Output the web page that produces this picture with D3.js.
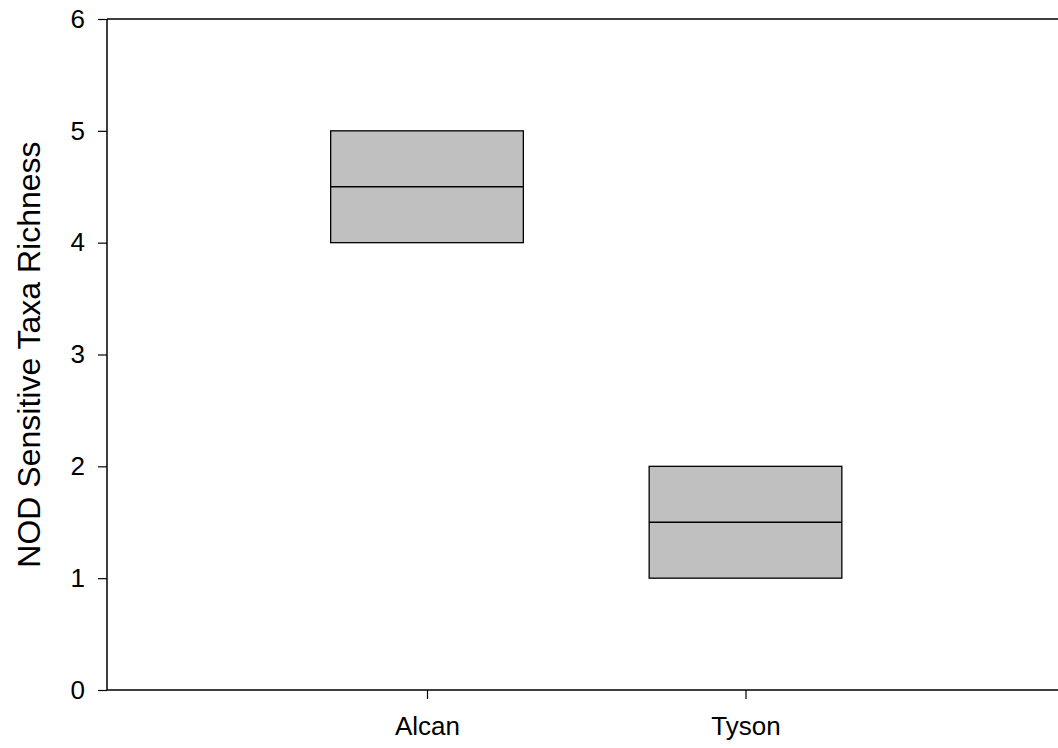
<!DOCTYPE html>
<html><head><meta charset="utf-8">
<script src="https://cdn.jsdelivr.net/npm/d3@7"></script>
<style>body{margin:0;background:#fff}svg{display:block}text{font-family:"Liberation Sans",Arial,sans-serif}</style>
</head><body><svg id="c" width="1058" height="748"></svg>
<script>
const categories = ["Alcan", "Tyson"];
const q1 = [4, 1];
const medians = [4.5, 1.5];
const q3 = [5, 2];
const yTicks = [0, 1, 2, 3, 4, 5, 6];
const yTitle = "NOD Sensitive Taxa Richness";

const svg = d3.select("#c");
const mLeft = 107, mRight = 1058, mTop = 19, mBottom = 690;
const x = d3.scaleLinear().domain([0, 3]).range([108.5, 1064]);
const y = d3.scaleLinear().domain([0, 6]).range([mBottom, mTop]);
const boxW = 0.605;

const yAxis = svg.append("g").attr("transform", `translate(${mLeft},0)`)
  .call(d3.axisLeft(y).tickValues(yTicks).tickFormat(d3.format("d")).tickSize(9).tickPadding(13));
const xAxis = svg.append("g").attr("transform", `translate(0,${mBottom})`)
  .call(d3.axisBottom(x).tickValues(categories.map((c, i) => i + 1)).tickFormat((d) => categories[d - 1]).tickSize(9).tickPadding(18));
[yAxis, xAxis].forEach(g => {
  g.select(".domain").attr("stroke", "#000").attr("stroke-width", 1.5);
  g.selectAll(".tick line").attr("stroke", "#000").attr("stroke-width", 1.2);
  g.selectAll(".tick text").attr("fill", "#000").attr("font-size", 26).attr("font-family", "'Liberation Sans', Arial, sans-serif");
});
yAxis.select(".domain").attr("d", `M0,${mBottom}V${mTop}`);
xAxis.select(".domain").attr("d", `M${mLeft},0H${mRight}`);
svg.append("line").attr("x1", mLeft).attr("x2", mRight).attr("y1", y(6)).attr("y2", y(6))
  .attr("stroke", "#000").attr("stroke-width", 1.5);

const boxes = svg.append("g");
categories.forEach((c, i) => {
  boxes.append("rect")
    .attr("x", x(i + 1 - boxW / 2)).attr("width", x(i + 1 + boxW / 2) - x(i + 1 - boxW / 2))
    .attr("y", y(q3[i])).attr("height", y(q1[i]) - y(q3[i]))
    .attr("fill", "#c0c0c0").attr("stroke", "#000").attr("stroke-width", 1.3);
  boxes.append("line")
    .attr("x1", x(i + 1 - boxW / 2)).attr("x2", x(i + 1 + boxW / 2))
    .attr("y1", y(medians[i])).attr("y2", y(medians[i]))
    .attr("stroke", "#000").attr("stroke-width", 1.3);
});

svg.append("text")
  .attr("transform", `translate(40,${(y(0) + y(6)) / 2}) rotate(-90)`)
  .attr("text-anchor", "middle").attr("font-size", 32).attr("fill", "#000")
  .text(yTitle);
</script></body></html>
